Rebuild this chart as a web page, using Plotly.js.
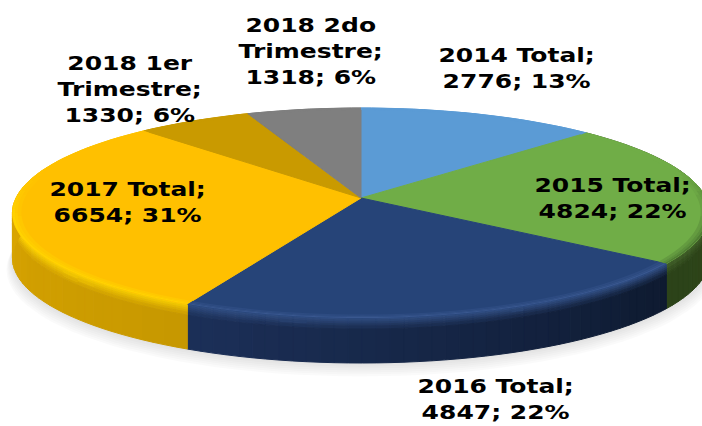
<!DOCTYPE html>
<html>
<head>
<meta charset="utf-8">
<script src="https://cdn.plot.ly/plotly-3.0.1.min.js"></script>
<style>
html,body{margin:0;padding:0;background:#fff}
#chart{width:702px;height:426px}
.annotation text{transform-box:fill-box;transform-origin:center;transform:scaleX(1.25)}
.scatterlayer{filter:blur(.6px)}
</style>
</head>
<body>
<div id="chart"></div>
<script>
const categories = ["2014 Total","2015 Total","2016 Total","2017 Total","2018 1er Trimestre","2018 2do Trimestre"];
const values = [2776,4824,4847,6654,1330,1318];
const percents = [13,22,22,31,6,6];
const topColors = ["#5b9bd5","#70ad47","#264478","#ffc000","#c99a00","#7f7f7f"];
const labelLines = [
  ["2014 Total;","2776; 13%"],
  ["2015 Total;","4824; 22%"],
  ["2016 Total;","4847; 22%"],
  ["2017 Total;","6654; 31%"],
  ["2018 1er","Trimestre;","1330; 6%"],
  ["2018 2do","Trimestre;","1318; 6%"]
];
const labelX = [516,612,495,127,129,310];
const labelY = [68,198,399,202,89,51];

// perspective disc: apex, radius scale, foreshortening
const AX=361, AY=198, SX=345, SY=102.86, K=-1/7, DEPTH=45;
function P(deg,r,d){
  const t=deg*Math.PI/180, u=r*Math.sin(t), v=-r*Math.cos(t), w=1+K*v;
  return [AX+SX*u/w, AY+SY*v/w+(d||0)];
}
const hex=c=>[1,3,5].map(i=>parseInt(c.substr(i,2),16));
const mix=(a,b,t)=>{const A=hex(a),B=hex(b);return '#'+A.map((x,i)=>Math.round(x+(B[i]-x)*t).toString(16).padStart(2,'0')).join('');};

const total=values.reduce((a,b)=>a+b,0);
let cum=0;
const spans=values.map(v=>{const s=cum/total*360;cum+=v;return [s,cum/total*360];});

const buckets=new Map();
function addPoly(color,pts){
  if(!buckets.has(color))buckets.set(color,{x:[],y:[]});
  const b=buckets.get(color);
  pts.forEach(p=>{b.x.push(p[0]);b.y.push(p[1]);});
  b.x.push(pts[0][0],null);b.y.push(pts[0][1],null);
}
function polyTrace(x,y,color,withLine){
  return {type:'scatter',mode:'lines',x:x,y:y,fill:'toself',fillcolor:color,
    line:{color:withLine?color:'rgba(0,0,0,0)',width:withLine?1:0},hoverinfo:'skip',showlegend:false};
}
const traces=[];

// soft shadow under the disc
for(let s=14;s>=2;s-=2){
  const xs=[],ys=[];
  for(let a=0;a<=360;a+=3){const p=P(a,1+0.0012*s,DEPTH+s*0.8);xs.push(p[0]);ys.push(p[1]);}
  traces.push(polyTrace(xs,ys,'rgba(0,0,0,0.02)',false));
}

// walls: hue along the rim + highlight fading downward
const wallEnds={1:['#2f471b','#2c4319'],2:['#0e1a30','#1c3059'],3:['#c79800','#e6ae00'],4:['#8a6a00','#8a6a00'],0:['#2f5f8f','#2f5f8f'],5:['#555555','#555555']};
const wallHi={1:'#405f28',2:'#2f4c80',3:'#f7cc00',4:'#c99a00',0:'#5b9bd5',5:'#7f7f7f'};
const rows=[0,2,4,6,8,11,DEPTH];
const STEP=2;
spans.forEach((sp,i)=>{
  for(let a=sp[0];a<sp[1]-1e-6;a+=STEP){
    const b=Math.min(a+STEP,sp[1]);
    const f=(a-sp[0])/(sp[1]-sp[0]);
    const base=mix(wallEnds[i][0],wallEnds[i][1],Math.round(f*24)/24);
    for(let k=0;k<rows.length-1;k++){
      const t=k/(rows.length-2);
      const col=mix(wallHi[i],base,Math.min(1,t));
      addPoly(col,[P(a,1,rows[k]),P(b,1,rows[k]),P(b,1,rows[k+1]),P(a,1,rows[k+1])]);
    }
  }
});
buckets.forEach((b,c)=>traces.push(polyTrace(b.x,b.y,c,true)));
buckets.clear();

// top surface slices
spans.forEach((sp,i)=>{
  const xs=[AX],ys=[AY];
  for(let a=sp[0];a<sp[1];a+=2){const p=P(a,1);xs.push(p[0]);ys.push(p[1]);}
  const e=P(sp[1],1);xs.push(e[0],AX);ys.push(e[1],AY);
  traces.push(polyTrace(xs,ys,topColors[i],true));
});

// bevel band along the front of the rim
const bevelHi={0:'#5b9bd5',1:'#4f7d33',2:'#39578f',3:'#ffd400',4:'#c99a00',5:'#7f7f7f'};
const radii=[0.975,0.985,0.993,1];
spans.forEach((sp,i)=>{
  for(let a=sp[0];a<sp[1]-1e-6;a+=STEP){
    const b=Math.min(a+STEP,sp[1]);
    const mid=(a+b)/2, v=-Math.cos(mid*Math.PI/180);
    const w=Math.max(0,Math.min(1,(v+0.3)/0.5));
    for(let k=0;k<radii.length-1;k++){
      const t=Math.round(w*8*(k+1)/(radii.length-1))/8;
      const col=mix(topColors[i],bevelHi[i],t);
      addPoly(col,[P(a,radii[k]),P(b,radii[k]),P(b,radii[k+1]),P(a,radii[k+1])]);
    }
  }
});
buckets.forEach((b,c)=>traces.push(polyTrace(b.x,b.y,c,false)));

const annotations=labelLines.map((l,i)=>({
  x:labelX[i],y:labelY[i],xref:'x',yref:'y',text:l.join('<br>'),showarrow:false,
  align:'center',xanchor:'center',yanchor:'middle',
  font:{family:'"DejaVu Sans"',size:20,color:'#000000',weight:700}
}));

Plotly.newPlot('chart',traces,{
  width:702,height:426,margin:{l:0,r:0,t:0,b:0},
  paper_bgcolor:'#ffffff',plot_bgcolor:'#ffffff',showlegend:false,
  xaxis:{range:[0,702],visible:false,fixedrange:true},
  yaxis:{range:[426,0],visible:false,fixedrange:true},
  annotations:annotations
},{displayModeBar:false,staticPlot:true});
</script>
</body>
</html>
